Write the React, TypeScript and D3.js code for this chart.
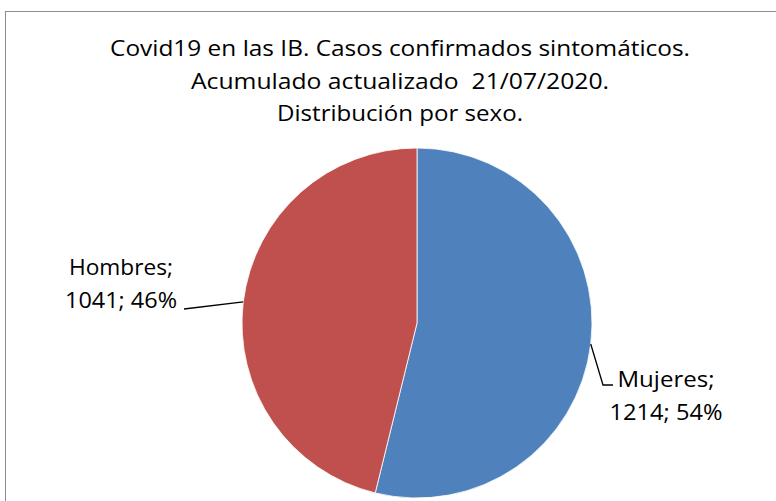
import * as d3 from "d3";

const categories = ["Mujeres", "Hombres"];
const cases = [1214, 1041];
const percents = ["54%", "46%"];
const colors = ["#4f81bd", "#c0504d"];
const titleLines = [
  "Covid19 en las IB. Casos confirmados sintomáticos.",
  "Acumulado actualizado  21/07/2020.",
  "Distribución por sexo.",
];

const W = 776;
const H = 501;
const cx = 417;
const cy = 323;
const radius = 175;
const font = "Open Sans, Liberation Sans, sans-serif";

type Slice = { name: string; value: number; pct: string; color: string };

export default function App() {
  const data: Slice[] = categories.map((name, i) => ({
    name,
    value: cases[i],
    pct: percents[i],
    color: colors[i],
  }));

  const pie = d3
    .pie<Slice>()
    .sort(null)
    .value((d) => d.value);
  const arcs = pie(data);
  const arc = d3.arc<d3.PieArcDatum<Slice>>().innerRadius(0).outerRadius(radius);

  // anchor points on the rim, at each slice's middle angle
  const rim = (a: d3.PieArcDatum<Slice>) => {
    const m = (a.startAngle + a.endAngle) / 2;
    return [cx + radius * Math.sin(m), cy - radius * Math.cos(m)];
  };

  const titleWidths = [580, 418, 246];
  const titleY = [56, 89, 121];

  const [mArc, hArc] = arcs;
  const [mx, my] = rim(mArc);
  const [hx, hy] = rim(hArc);

  const txt = { fontFamily: font, fontSize: 22, fill: "#000", whiteSpace: "pre" as const };

  return (
    <svg
      width={W}
      height={H}
      style={{ position: "absolute", left: 0, top: 0, background: "#fff" }}
    >
      <rect x={5.5} y={11.5} width={820} height={600} fill="#fff" stroke="#8c8c8c" />
      {titleLines.map((t, i) => (
        <text
          key={i}
          x={400}
          y={titleY[i]}
          textAnchor="middle"
          style={txt}
          textLength={titleWidths[i]}
          lengthAdjust="spacingAndGlyphs"
        >
          {t}
        </text>
      ))}
      <g transform={`translate(${cx},${cy})`}>
        {arcs.map((a, i) => (
          <path key={i} d={arc(a) || ""} fill={a.data.color} stroke="#fff" strokeWidth={0.8} />
        ))}
      </g>

      {/* Hombres leader + label */}
      <polyline
        points={`${hx},${hy} ${184},${309}`}
        fill="none"
        stroke="#000"
        strokeWidth={1.3}
      />
      <text x={121} y={275} textAnchor="middle" style={txt} textLength={104} lengthAdjust="spacingAndGlyphs">
        {`${hArc.data.name};`}
      </text>
      <text x={121} y={308} textAnchor="middle" style={txt} textLength={112} lengthAdjust="spacingAndGlyphs">
        {`${hArc.data.value}; ${hArc.data.pct}`}
      </text>

      {/* Mujeres leader + label */}
      <polyline
        points={`${mx},${my} ${603},${385} ${613},${385}`}
        fill="none"
        stroke="#000"
        strokeWidth={1.3}
      />
      <text x={666} y={387} textAnchor="middle" style={txt} textLength={97} lengthAdjust="spacingAndGlyphs">
        {`${mArc.data.name};`}
      </text>
      <text x={666} y={420} textAnchor="middle" style={txt} textLength={113} lengthAdjust="spacingAndGlyphs">
        {`${mArc.data.value}; ${mArc.data.pct}`}
      </text>
    </svg>
  );
}
